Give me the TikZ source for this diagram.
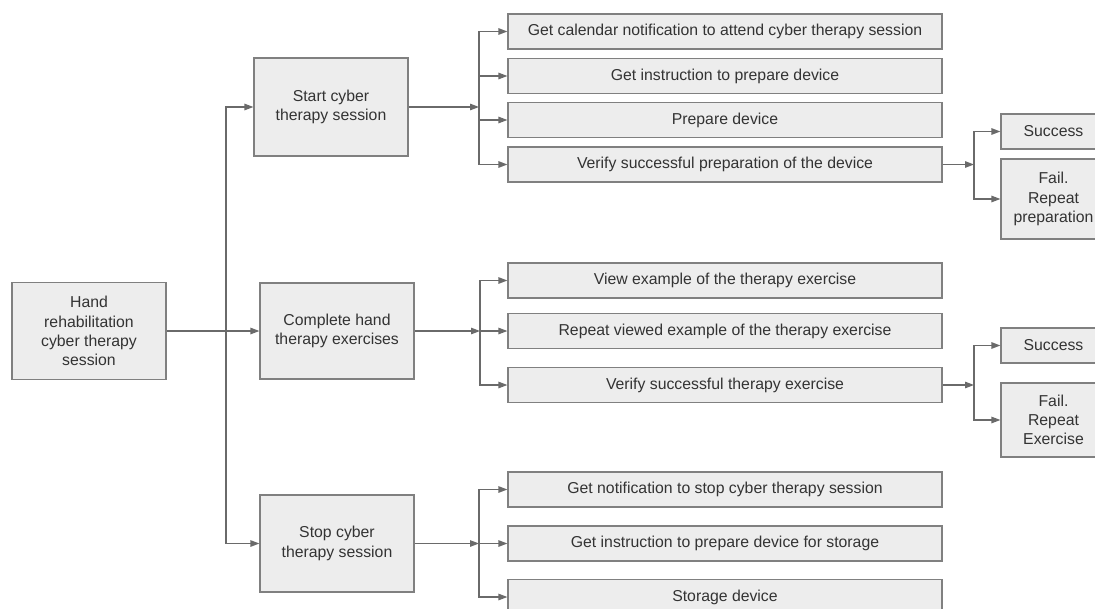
\documentclass[tikz,border=0pt]{standalone}
\usepackage{fontspec}
\setmainfont{Liberation Sans}
\usetikzlibrary{arrows.meta}
\definecolor{boxfill}{HTML}{EDEDED}
\definecolor{boxline}{HTML}{808080}
\definecolor{conn}{HTML}{6A6A6A}
\definecolor{txt}{HTML}{333333}
\begin{document}
\begin{tikzpicture}[x=1pt,y=-1pt,
  box/.style={draw=boxline, fill=boxfill, line width=1.2pt, inner sep=0pt,
    text=txt, align=center, font=\fontsize{15.8}{19.3}\selectfont},
  big/.style={box, minimum width=154pt, minimum height=97pt},
  wide/.style={box, minimum width=434pt, minimum height=35pt},
  small/.style={box, minimum width=105pt},
  conline/.style={draw=conn, line width=1.2pt},
  arr/.style={conline, -{Triangle[length=9pt,width=6.5pt]}}]
\useasboundingbox (0,0) rectangle (1095,608);
\fill[white] (0,0) rectangle (1095,608);

% level 0 and 1
\node[big] (root) at (89,331) {Hand\\rehabilitation\\cyber therapy\\session};
\node[big, minimum height=98pt] (start) at (331,107) {Start cyber\\therapy session};
\node[big, minimum height=96pt] (complete) at (337,331) {Complete hand\\therapy exercises};
\node[big] (stop) at (337,543.5) {Stop cyber\\therapy session};

% level 2
\node[wide] (a1) at (725,31.5) {Get calendar notification to attend cyber therapy session};
\node[wide] (a2) at (725,76) {Get instruction to prepare device};
\node[wide] (a3) at (725,120) {Prepare device};
\node[wide] (a4) at (725,164.5) {Verify successful preparation of the device};

\node[wide] (b1) at (725,280.5) {View example of the therapy exercise};
\node[wide] (b2) at (725,331) {Repeat viewed example of the therapy exercise};
\node[wide] (b3) at (725,385) {Verify successful therapy exercise};

\node[wide] (c1) at (725,489.5) {Get notification to stop cyber therapy session};
\node[wide] (c2) at (725,543.5) {Get instruction to prepare device for storage};
\node[wide] (c3) at (725,597) {Storage device};

% level 3
\node[small, minimum height=35pt] (s1) at (1053.5,131.5) {Success};
\node[small, minimum height=80pt] (f1) at (1053.5,199) {Fail.\\Repeat\\preparation};
\node[small, minimum height=35pt] (s2) at (1053.5,345.5) {Success};
\node[small, minimum height=74pt] (f2) at (1053.5,420) {Fail.\\Repeat\\Exercise};

% junctions
\coordinate (j1) at (226,331);
\coordinate (j2) at (479,107);
\coordinate (j3) at (480,331);
\coordinate (j4) at (479,543.5);
\coordinate (j5) at (974,164.5);
\coordinate (j6) at (974,385);

% connectors
\draw[conline] (root.east) -- (j1);
\draw[arr] (j1) |- (start.west);
\draw[arr] (j1) -- (complete.west);
\draw[arr] (j1) |- (stop.west);

\draw[arr] (start.east) -- (j2);
\draw[arr] (j2) |- (a1.west);
\draw[arr] (j2) |- (a2.west);
\draw[arr] (j2) |- (a3.west);
\draw[arr] (j2) |- (a4.west);

\draw[arr] (complete.east) -- (j3);
\draw[arr] (j3) |- (b1.west);
\draw[arr] (j3) |- (b2.west);
\draw[arr] (j3) |- (b3.west);

\draw[arr] (stop.east) -- (j4);
\draw[arr] (j4) |- (c1.west);
\draw[arr] (j4) |- (c2.west);
\draw[arr] (j4) |- (c3.west);

\draw[arr] (a4.east) -- (j5);
\draw[arr] (j5) |- (s1.west);
\draw[arr] (j5) |- (f1.west);

\draw[arr] (b3.east) -- (j6);
\draw[arr] (j6) |- (s2.west);
\draw[arr] (j6) |- (f2.west);
\end{tikzpicture}
\end{document}
